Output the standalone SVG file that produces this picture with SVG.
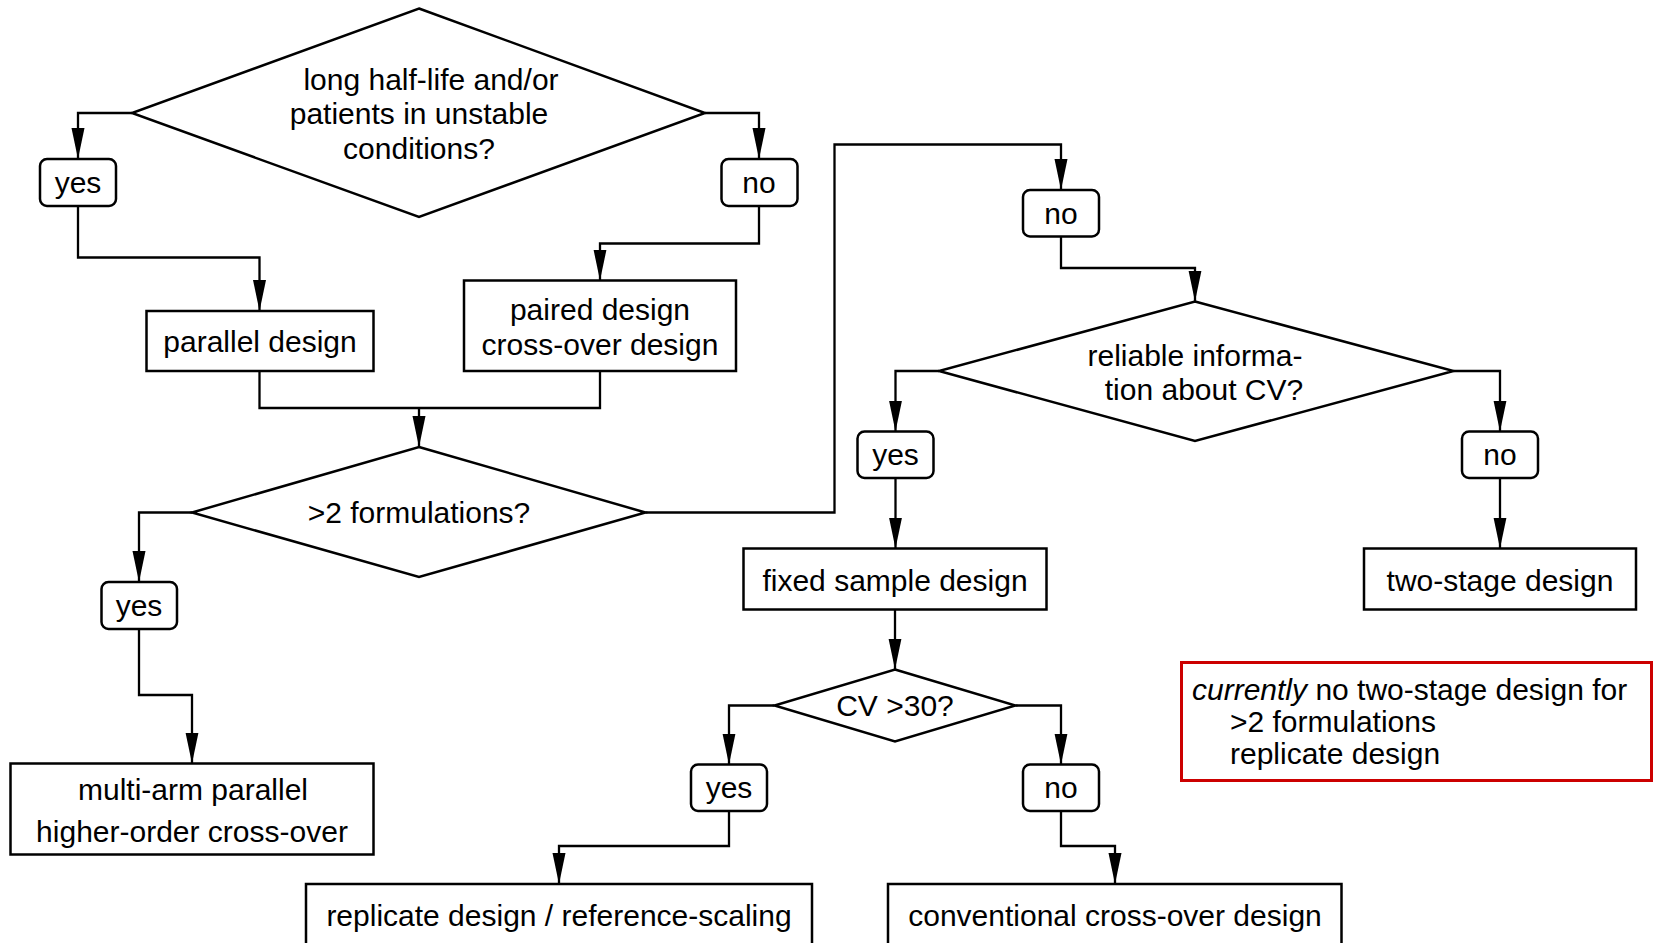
<svg xmlns="http://www.w3.org/2000/svg" width="1654" height="943" viewBox="0 0 1654 943">
<defs>
<style>
.n{fill:#fff;stroke:#000;stroke-width:2.5}
.r{fill:#fff;stroke:#000;stroke-width:2.5}
.c{fill:none;stroke:#000;stroke-width:2.3;marker-end:url(#ah)}
.c0{fill:none;stroke:#000;stroke-width:2.3}
text{font-family:"Liberation Sans",Arial,Helvetica,sans-serif;font-size:30px;fill:#000}
.m{text-anchor:middle}
</style>
<marker id="ah" viewBox="0 -7 31 14" refX="31" refY="0" markerWidth="31" markerHeight="14" markerUnits="userSpaceOnUse" orient="auto">
<path d="M0,-6.5 L31,0 L0,6.5 z" fill="#000"/>
</marker>
</defs>
<rect width="1654" height="943" fill="#fff"/>
<g id="connectors">
<path class="c" d="M132,113 H78 V159"/>
<path class="c" d="M78,206 V257.5 H259.5 V311"/>
<path class="c" d="M705,113 H759 V159"/>
<path class="c" d="M759,206 V243.5 H600 V280.5"/>
<path class="c0" d="M259.5,371 V408 H600 V371"/>
<path class="c" d="M419,408 V447"/>
<path class="c" d="M192,512.5 H139 V582"/>
<path class="c" d="M139,629 V695 H192 V763.5"/>
<path class="c" d="M645.5,512.5 H834.5 V144.5 H1061 V190"/>
<path class="c" d="M1061,236 V268 H1195 V301.5"/>
<path class="c" d="M939,371 H895.5 V431.5"/>
<path class="c" d="M1453.5,371 H1500 V431.5"/>
<path class="c" d="M895.5,478 V548.5"/>
<path class="c" d="M1500,478 V548.5"/>
<path class="c" d="M895,610 V669.5"/>
<path class="c" d="M774.5,705.5 H729 V764.5"/>
<path class="c" d="M1015.5,705.5 H1061 V764.5"/>
<path class="c" d="M729,811 V846 H559 V884"/>
<path class="c" d="M1061,811 V846 H1115 V884"/>
</g>
<g id="q1">
<polygon class="n" points="419,8.5 705,113 419,217 132,113"/>
<text class="m" x="431" y="89.5">long half-life and/or</text>
<text class="m" x="419" y="124">patients in unstable</text>
<text class="m" x="419" y="158.5">conditions?</text>
</g>
<g id="yes1"><rect class="r" x="40" y="159" width="76" height="47" rx="7"/><text class="m" x="78" y="193">yes</text></g>
<g id="no1"><rect class="r" x="721.5" y="159" width="76" height="47" rx="7"/><text class="m" x="759" y="193">no</text></g>
<g id="parallel"><rect class="n" x="146.5" y="311" width="227" height="60"/><text class="m" x="260" y="351.5">parallel design</text></g>
<g id="paired"><rect class="n" x="464" y="280.5" width="272" height="90.5"/><text class="m" x="600" y="319.5">paired design</text><text class="m" x="600" y="354.5">cross-over design</text></g>
<g id="q2">
<polygon class="n" points="419,447 645.5,512.5 419,577 192,512.5"/>
<text class="m" x="419" y="523">&gt;2 formulations?</text>
</g>
<g id="yes2"><rect class="r" x="101.5" y="582" width="75.5" height="47" rx="7"/><text class="m" x="139" y="616">yes</text></g>
<g id="multi"><rect class="n" x="10.5" y="763.5" width="363" height="91"/><text class="m" x="193" y="799.5">multi-arm parallel</text><text class="m" x="192" y="841.5">higher-order cross-over</text></g>
<g id="no3"><rect class="r" x="1023" y="190" width="76" height="46.5" rx="7"/><text class="m" x="1061" y="223.5">no</text></g>
<g id="q3">
<polygon class="n" points="1195,301.5 1453.5,371 1195,441 939,371"/>
<text class="m" x="1195" y="366">reliable informa-</text>
<text class="m" x="1204" y="400">tion about CV?</text>
</g>
<g id="yes3"><rect class="r" x="857.5" y="431.5" width="76" height="46.5" rx="7"/><text class="m" x="895.5" y="465">yes</text></g>
<g id="no4"><rect class="r" x="1462" y="431.5" width="76" height="46.5" rx="7"/><text class="m" x="1500" y="465">no</text></g>
<g id="fixed"><rect class="n" x="743.5" y="548.5" width="303" height="61"/><text class="m" x="895" y="590.5">fixed sample design</text></g>
<g id="twostage"><rect class="n" x="1364" y="548.5" width="272" height="61"/><text class="m" x="1500" y="590.5">two-stage design</text></g>
<g id="q4">
<polygon class="n" points="895,669.5 1015.5,705.5 895,741.5 774.5,705.5"/>
<text class="m" x="895" y="716">CV &gt;30?</text>
</g>
<g id="yes4"><rect class="r" x="691" y="764.5" width="76" height="46.5" rx="7"/><text class="m" x="729" y="798">yes</text></g>
<g id="no5"><rect class="r" x="1023" y="764.5" width="76" height="46.5" rx="7"/><text class="m" x="1061" y="798">no</text></g>
<g id="replicate"><rect class="n" x="306" y="884" width="506" height="64"/><text class="m" x="559" y="926">replicate design / reference-scaling</text></g>
<g id="conventional"><rect class="n" x="888" y="884" width="453.5" height="64"/><text class="m" x="1115" y="926">conventional cross-over design</text></g>
<g id="note">
<rect x="1181.5" y="662.5" width="470" height="118" fill="#fff" stroke="#cc0000" stroke-width="3"/>
<text x="1192" y="700"><tspan font-style="italic">currently</tspan> no two-stage design for</text>
<text x="1230" y="732">&gt;2 formulations</text>
<text x="1230" y="763.5">replicate design</text>
</g>
</svg>
